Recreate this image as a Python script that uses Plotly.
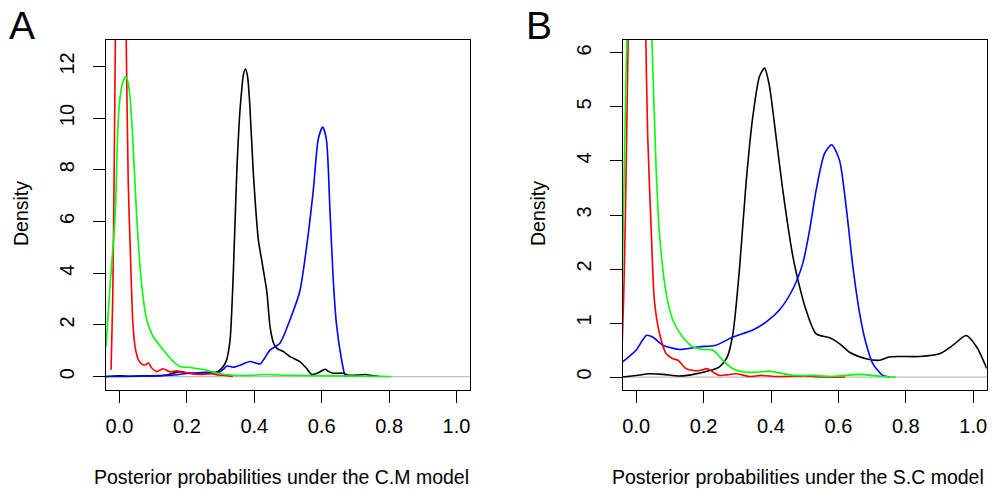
import plotly.graph_objects as go

# ---------------- Data ----------------
# Panel A: posterior probabilities under the C.M model
a_black_x = [-0.04, 0.0, 0.03, 0.07, 0.1, 0.14, 0.18, 0.21, 0.25, 0.29, 0.308, 0.318, 0.328, 0.333, 0.338,
             0.348, 0.355, 0.362, 0.368, 0.374, 0.38, 0.387, 0.397, 0.412, 0.422, 0.437, 0.447, 0.457,
             0.466, 0.486, 0.506, 0.535, 0.555, 0.57, 0.59, 0.61, 0.62, 0.634, 0.664, 0.68, 0.71, 0.73,
             0.75, 0.772]
a_black_y = [0.0, 0.03, 0.01, 0.03, 0.02, 0.06, 0.19, 0.12, 0.1, 0.18, 0.39, 0.65, 1.4, 2.5, 4.1,
             7.9, 9.8, 11.0, 11.7, 11.9, 11.6, 10.45, 7.9, 5.3, 4.5, 3.3, 1.9, 1.3,
             1.1, 0.97, 0.77, 0.58, 0.32, 0.08, 0.15, 0.28, 0.2, 0.13, 0.13, 0.05, 0.06, 0.08,
             0.04, 0.0]

a_blue_x = [-0.04, 0.05, 0.1, 0.15, 0.21, 0.26, 0.298, 0.31, 0.318, 0.338, 0.36, 0.387, 0.417, 0.43,
            0.447, 0.476, 0.506, 0.535, 0.555, 0.575, 0.59, 0.603, 0.614, 0.624, 0.634, 0.644, 0.659,
            0.669, 0.675]
a_blue_y = [0.0, 0.01, 0.03, 0.05, 0.13, 0.16, 0.19, 0.3, 0.41, 0.36, 0.45, 0.58, 0.49, 0.7,
            1.03, 1.29, 2.2, 3.3, 5.0, 7.2, 9.2, 9.65, 9.16, 6.6, 3.8, 2.0, 0.65,
            0.06, 0.0]

a_red_x = [-0.025, -0.02, -0.015, -0.01, -0.003, 0.005, 0.013, 0.02, 0.026, 0.032, 0.04, 0.047, 0.056,
           0.066, 0.076, 0.086, 0.096, 0.11, 0.12, 0.13, 0.15, 0.17, 0.19, 0.21, 0.23, 0.248, 0.269,
           0.29, 0.31, 0.336]
a_red_y = [0.26, 3.0, 9.0, 16.0, 22.0, 24.0, 20.0, 13.0, 7.5, 4.9, 2.0, 1.1, 0.65,
           0.48, 0.45, 0.52, 0.33, 0.19, 0.25, 0.3, 0.18, 0.22, 0.16, 0.14, 0.09, 0.08, 0.12,
           0.06, 0.05, 0.0]

a_green_x = [-0.04, -0.028, -0.013, -0.003, 0.008, 0.018, 0.025, 0.032, 0.041, 0.051, 0.061, 0.071,
             0.081, 0.1, 0.13, 0.16, 0.18, 0.21, 0.24, 0.26, 0.29, 0.34, 0.38, 0.43, 0.5, 0.6, 0.7,
             0.807]
a_green_y = [1.16, 3.5, 6.2, 10.1, 11.3, 11.6, 11.4, 10.7, 8.8, 6.2, 4.26, 2.97,
             2.2, 1.55, 1.03, 0.58, 0.39, 0.35, 0.29, 0.24, 0.13, 0.05, 0.04, 0.08, 0.05, 0.03, 0.02,
             0.0]

# Panel B: posterior probabilities under the S.C model
b_black_x = [-0.04, 0.0, 0.04, 0.08, 0.128, 0.17, 0.218, 0.247, 0.27, 0.287, 0.307, 0.326, 0.346,
             0.366, 0.381, 0.395, 0.41, 0.435, 0.465, 0.485, 0.504, 0.534, 0.573, 0.603, 0.633,
             0.682, 0.722, 0.75, 0.781, 0.841, 0.9, 0.94, 0.979, 1.01, 1.04]
b_black_y = [0.0, 0.03, 0.06, 0.05, 0.02, 0.05, 0.12, 0.19, 0.37, 0.8, 2.04, 3.59, 4.82,
             5.57, 5.72, 5.4, 4.7, 3.46, 2.23, 1.67, 1.24, 0.8, 0.73, 0.62, 0.46,
             0.34, 0.31, 0.37, 0.38, 0.38, 0.43, 0.59, 0.77, 0.56, 0.16]

b_blue_x = [-0.04, 0.0, 0.03, 0.049, 0.079, 0.128, 0.188, 0.237, 0.287, 0.346, 0.386, 0.425, 0.465,
            0.494, 0.514, 0.534, 0.559, 0.58, 0.603, 0.623, 0.643, 0.663, 0.682, 0.702, 0.732, 0.752]
b_blue_y = [0.28, 0.5, 0.77, 0.74, 0.59, 0.51, 0.56, 0.59, 0.74, 0.87, 1.02, 1.24, 1.63,
            2.1, 2.7, 3.46, 4.14, 4.3, 4.02, 3.15, 2.04, 1.18, 0.62, 0.25, 0.03, 0.0]

b_red_x = [-0.042, -0.037, -0.032, -0.027, -0.022, -0.012, 0.0, 0.012, 0.022, 0.028, 0.034, 0.045,
           0.054, 0.069, 0.089, 0.109, 0.124, 0.148, 0.17, 0.188, 0.212, 0.23, 0.247, 0.27, 0.297,
           0.336, 0.37, 0.42, 0.5, 0.55, 0.62]
b_red_y = [0.5, 1.5, 3.0, 5.0, 7.0, 11.0, 14.0, 13.0, 9.0, 6.5, 4.5, 2.66,
           1.42, 0.81, 0.43, 0.34, 0.31, 0.155, 0.12, 0.12, 0.155, 0.08, 0.03, 0.04, 0.06,
           0.01, 0.03, 0.01, 0.02, 0.0, 0.0]

b_green_x = [-0.042, -0.035, -0.027, -0.015, 0.0, 0.015, 0.03, 0.04, 0.047, 0.059, 0.069, 0.089,
             0.109, 0.138, 0.168, 0.198, 0.227, 0.257, 0.287, 0.326, 0.36, 0.395, 0.43, 0.465,
             0.524, 0.58, 0.663, 0.7, 0.732, 0.77]
b_green_y = [1.5, 4.0, 6.5, 9.5, 11.5, 12.0, 10.5, 8.0, 6.2, 3.9, 2.66, 1.55,
             1.05, 0.74, 0.56, 0.51, 0.5, 0.31, 0.155, 0.09, 0.09, 0.11, 0.07, 0.03,
             0.03, 0.01, 0.05, 0.03, 0.01, 0.0]

x_ticks = [0.0, 0.2, 0.4, 0.6, 0.8, 1.0]
a_y_ticks = [0, 2, 4, 6, 8, 10, 12]
b_y_ticks = [0, 1, 2, 3, 4, 5, 6]

# ---------------- Figure ----------------
W, H = 1002, 489
FONT = "Liberation Sans, Arial, sans-serif"

fig = go.Figure()

def add(x, y, color, xa, ya):
    fig.add_trace(go.Scatter(x=x, y=y, mode="lines", xaxis=xa, yaxis=ya,
                             line=dict(color=color, width=1.6, shape="spline", smoothing=0.7),
                             showlegend=False, hoverinfo="skip"))

add(a_black_x, a_black_y, "#000000", "x", "y")
add(a_blue_x, a_blue_y, "#0000FF", "x", "y")
add(a_red_x, a_red_y, "#FF0000", "x", "y")
add(a_green_x, a_green_y, "#00FF00", "x", "y")

add(b_black_x, b_black_y, "#000000", "x2", "y2")
add(b_blue_x, b_blue_y, "#0000FF", "x2", "y2")
add(b_red_x, b_red_y, "#FF0000", "x2", "y2")
add(b_green_x, b_green_y, "#00FF00", "x2", "y2")

# zero reference lines (R density plot style)
for xr, yr in (("x", "y"), ("x2", "y2")):
    fig.add_shape(type="line", xref=xr + " domain", yref=yr, x0=0, x1=1, y0=0, y1=0,
                  line=dict(color="#BEBEBE", width=1.3), layer="below")

xdomA = [106 / W, 470 / W]
xdomB = [622.7 / W, 986.7 / W]
ydom = [1 - 390 / H, 1 - 40 / H]

common_axis = dict(showline=True, mirror=True, linecolor="black", linewidth=1.4,
                   ticks="outside", ticklen=12, tickwidth=1.3, tickcolor="black",
                   showgrid=False, zeroline=False,
                   tickfont=dict(family=FONT, size=20, color="black"))

fig.update_layout(
    width=W, height=H,
    margin=dict(l=0, r=0, t=0, b=0),
    paper_bgcolor="white", plot_bgcolor="white",
    xaxis=dict(domain=xdomA, range=[-0.04, 1.04], tickvals=x_ticks, tickformat=".1f",
               anchor="y", ticklabelstandoff=6, **common_axis),
    yaxis=dict(domain=ydom, range=[-0.52, 13.02], tickvals=a_y_ticks, tickangle=-90,
               anchor="x", ticklabelstandoff=11, **common_axis),
    xaxis2=dict(domain=xdomB, range=[-0.04, 1.04], tickvals=x_ticks, tickformat=".1f",
                anchor="y2", ticklabelstandoff=6, **common_axis),
    yaxis2=dict(domain=ydom, range=[-0.24, 6.24], tickvals=b_y_ticks, tickangle=-90,
                anchor="x2", ticklabelstandoff=11, **common_axis),
)

def ann(text, x, y, size, angle=0):
    fig.add_annotation(text=text, xref="paper", yref="paper", x=x / W, y=1 - y / H,
                       xanchor="center", yanchor="middle", showarrow=False, textangle=angle,
                       font=dict(family=FONT, size=size, color="black"))

ann("A", 22, 26, 39)
ann("B", 539, 26, 39)
ann("Density", 21, 214, 19.5, -90)
ann("Density", 538, 214, 19.5, -90)
ann("Posterior probabilities under the C.M model", 281, 477, 19.5)
ann("Posterior probabilities under the S.C model", 798, 477, 19.5)

fig.write_html("out.html")
